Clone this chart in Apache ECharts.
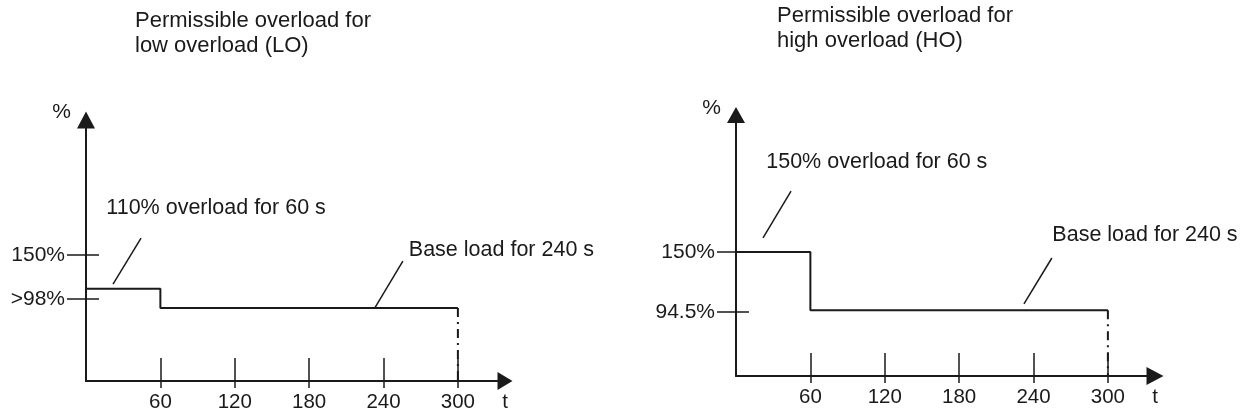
<!DOCTYPE html>
<html><head><meta charset="utf-8">
<script src="https://cdn.jsdelivr.net/npm/echarts@6/dist/echarts.min.js"></script>
<style>html,body{margin:0;padding:0;background:#fff}#c{width:1243px;height:416px}</style>
</head><body><div id="c"></div>
<script>
// ---- data ----
const timeTicks = [60, 120, 180, 240, 300];
const timeAxisMax = 338;          // end of the time axis (arrow)
const timeAxisName = 't';

// Low overload (LO)
const loTitle = 'Permissible overload for\nlow overload (LO)';
const loStepT = [0, 60, 60, 300];
const loStepV = [110, 110, 87, 87];
const loEndT = [300, 300];
const loEndV = [87, 0];
const loYTickValues = [98, 150];
const loYTickLabels = ['>98%', '150%'];
const loNoteTexts = ['110% overload for 60 s', 'Base load for 240 s'];
const loNoteAnchors = [[16, 206], [260, 156]];
const loNoteLeaders = [[[21.8, 115.5], [44.4, 170.2]], [[233, 87], [255.6, 142.9]]];

// High overload (HO)
const hoTitle = 'Permissible overload for\nhigh overload (HO)';
const hoStepT = [0, 60, 60, 300];
const hoStepV = [150, 150, 96, 96];
const hoEndT = [300, 300];
const hoEndV = [96, 35];
const hoYTickValues = [94.5, 150];
const hoYTickLabels = ['94.5%', '150%'];
const hoNoteTexts = ['150% overload for 60 s', 'Base load for 240 s'];
const hoNoteAnchors = [[24, 233], [254.8, 165.7]];
const hoNoteLeaders = [[[21.8, 163], [44.4, 206.5]], [[232.3, 101.8], [254.8, 144.4]]];

// ---- chart ----
const INK = '#1a1a1a';
const FONT = '"Liberation Sans", Arial, sans-serif';
const zip = (a, b) => a.map((v, i) => [v, b[i]]);
const xLabelValues = timeTicks.concat([timeAxisMax]);

function xAxes(gi, xArrow) {
  return [
    {
      type: 'value', gridIndex: gi, min: 0, max: timeAxisMax, position: 'bottom',
      axisLine: { show: true, onZero: false, lineStyle: { color: INK, width: 2 },
        symbol: ['none', 'triangle'], symbolSize: xArrow },
      axisTick: { show: true, inside: true, length: 23, customValues: timeTicks,
        lineStyle: { color: INK, width: 1.5 } },
      axisLabel: { show: true, customValues: xLabelValues, margin: 11, color: INK,
        fontSize: 20.5, fontFamily: FONT,
        formatter: v => (v === timeAxisMax ? timeAxisName : String(v)) },
      splitLine: { show: false }
    },
    {
      type: 'value', gridIndex: gi, min: 0, max: timeAxisMax, position: 'bottom',
      axisLine: { show: false, onZero: false },
      axisTick: { show: true, inside: false, length: 7, customValues: timeTicks,
        lineStyle: { color: INK, width: 1.5 } },
      axisLabel: { show: false }, splitLine: { show: false }
    }
  ];
}

function yAxes(gi, min, max, vals, labels, yArrow, nameGap) {
  return [
    {
      type: 'value', gridIndex: gi, min: min, max: max, position: 'left',
      axisLine: { show: true, onZero: false, lineStyle: { color: INK, width: 2 },
        symbol: ['none', 'triangle'], symbolSize: yArrow },
      axisTick: { show: true, inside: false, length: 19, customValues: vals,
        lineStyle: { color: INK, width: 1.5 } },
      axisLabel: { show: true, customValues: vals, margin: 21, color: INK,
        fontSize: 21, fontFamily: FONT, padding: [10, 0, 0, 0],
        formatter: v => labels[vals.indexOf(v)] },
      splitLine: { show: false },
      name: '%', nameLocation: 'end', nameGap: nameGap,
      nameTextStyle: { color: INK, fontSize: 21, fontFamily: FONT, align: 'right',
        verticalAlign: 'middle', padding: [0, 15, 0, 0] }
    },
    {
      type: 'value', gridIndex: gi, min: min, max: max, position: 'left',
      axisLine: { show: false, onZero: false },
      axisTick: { show: true, inside: true, length: 13, customValues: vals,
        lineStyle: { color: INK, width: 1.5 } },
      axisLabel: { show: false }, splitLine: { show: false }
    }
  ];
}

function seriesFor(xi, yi, stepT, stepV, endT, endV, texts, anchors, leaders) {
  const base = { type: 'line', xAxisIndex: xi, yAxisIndex: yi, symbol: 'none',
    silent: true, animation: false, emphasis: { disabled: true } };
  const out = [
    Object.assign({}, base, { data: zip(stepT, stepV), lineStyle: { color: INK, width: 2 } }),
    Object.assign({}, base, { data: zip(endT, endV),
      lineStyle: { color: INK, width: 2, type: [9, 5, 2, 5] } })
  ];
  leaders.forEach(l => out.push(Object.assign({}, base, { data: l,
    lineStyle: { color: INK, width: 1.5 } })));
  out.push({
    type: 'scatter', xAxisIndex: xi, yAxisIndex: yi, silent: true, animation: false,
    symbolSize: 1, itemStyle: { color: 'rgba(0,0,0,0)', opacity: 1 },
    data: anchors.map((a, i) => ({ value: a, name: texts[i] })),
    label: { show: true, position: 'right', distance: 0, formatter: p => p.name,
      color: INK, opacity: 1, fontSize: 21.5, fontFamily: FONT },
    emphasis: { disabled: true }
  });
  return out;
}

const chart = echarts.init(document.getElementById('c'), null, { renderer: 'canvas' });
chart.setOption({
  backgroundColor: '#fff',
  animation: false,
  title: [
    { text: loTitle, left: 135, top: 8, padding: 0,
      textStyle: { color: INK, fontSize: 22, fontWeight: 'normal', fontFamily: FONT, lineHeight: 25 } },
    { text: hoTitle, left: 777, top: 3, padding: 0,
      textStyle: { color: INK, fontSize: 22, fontWeight: 'normal', fontFamily: FONT, lineHeight: 25 } }
  ],
  grid: [
    { left: 86, top: 120, width: 419, height: 261, outerBoundsMode: 'none', containLabel: false },
    { left: 736, top: 115, width: 419, height: 261, outerBoundsMode: 'none', containLabel: false }
  ],
  xAxis: [].concat(xAxes(0, [18, 15]), xAxes(1, [18, 17])),
  yAxis: [].concat(
    yAxes(0, 0, 311, loYTickValues, loYTickLabels, [18, 17], 8),
    yAxes(1, 35, 277, hoYTickValues, hoYTickLabels, [18, 16], 7)
  ),
  series: [].concat(
    seriesFor(0, 0, loStepT, loStepV, loEndT, loEndV, loNoteTexts, loNoteAnchors, loNoteLeaders),
    seriesFor(2, 2, hoStepT, hoStepV, hoEndT, hoEndV, hoNoteTexts, hoNoteAnchors, hoNoteLeaders)
  )
});
</script></body></html>
